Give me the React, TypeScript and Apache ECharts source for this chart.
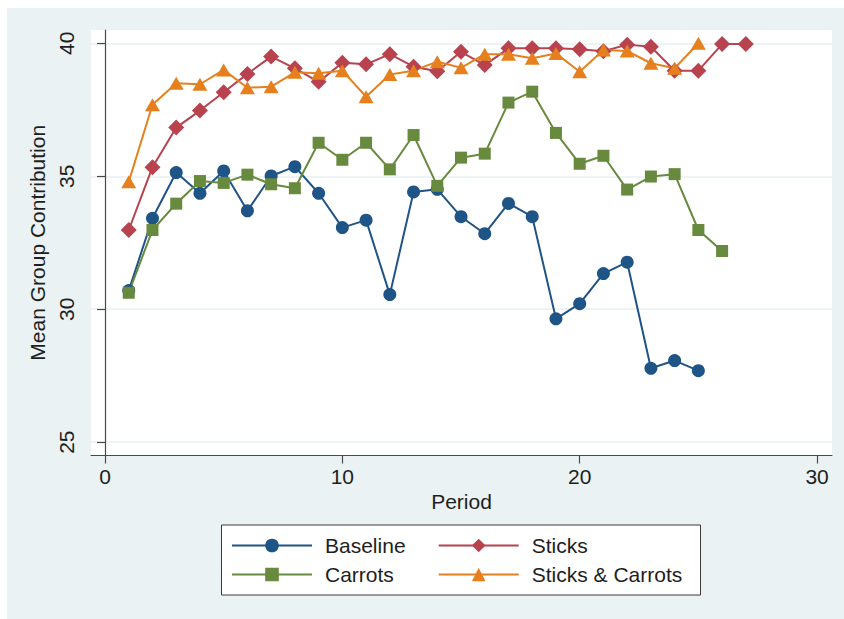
import React, { useEffect, useRef } from "react";
import * as echarts from "echarts";

const periods = [1, 2, 3, 4, 5, 6, 7, 8, 9, 10, 11, 12, 13, 14, 15, 16, 17, 18, 19, 20, 21, 22, 23, 24, 25, 26, 27];

const baseline = [30.7, 33.42, 35.14, 34.36, 35.2, 33.7, 35.01, 35.36, 34.36, 33.07, 33.35, 30.55, 34.41, 34.51, 33.48, 32.84, 33.98, 33.48, 29.64, 30.21, 31.34, 31.77, 27.78, 28.07, 27.69];
const sticks = [32.98, 35.34, 36.83, 37.47, 38.16, 38.85, 39.5, 39.06, 38.55, 39.27, 39.21, 39.59, 39.12, 38.95, 39.68, 39.18, 39.81, 39.81, 39.81, 39.78, 39.7, 39.95, 39.87, 38.97, 38.97, 39.97, 39.97];
const carrots = [30.62, 32.98, 33.97, 34.82, 34.75, 35.06, 34.7, 34.55, 36.26, 35.62, 36.26, 35.26, 36.55, 34.64, 35.7, 35.85, 37.77, 38.18, 36.63, 35.47, 35.77, 34.5, 34.99, 35.08, 32.98, 32.19];
const sticksCarrots = [34.79, 37.69, 38.5, 38.46, 39.0, 38.33, 38.37, 38.91, 38.87, 38.97, 37.99, 38.83, 38.97, 39.31, 39.08, 39.59, 39.59, 39.44, 39.62, 38.93, 39.75, 39.71, 39.25, 39.06, 40.0];

const xTicks = [0, 10, 20, 30];
const yTicks = [25, 30, 35, 40];

const FONT = "'Liberation Sans', Arial, Helvetica, sans-serif";
const TEXT = "#1e1e1e";

function pairs(vals: number[]) {
  return vals.map((v, i) => [periods[i], v]);
}

export default function App() {
  const ref = useRef<HTMLDivElement>(null);
  useEffect(() => {
    if (!ref.current) return;
    const chart = echarts.init(ref.current, undefined, { renderer: "svg" });
    const mk = (name: string, vals: number[], color: string, symbol: string, size: any) => ({
      name,
      type: "line",
      data: pairs(vals),
      symbol,
      symbolSize: size,
      showSymbol: true,
      lineStyle: { color, width: 2 },
      itemStyle: { color, borderWidth: 0 },
      emphasis: { disabled: true },
    });
    const legendCommon = {
      orient: "vertical",
      top: 530,
      itemWidth: 80,
      itemHeight: 17,
      itemGap: 8,
      selectedMode: false,
      textStyle: { fontFamily: FONT, fontSize: 21, color: TEXT, padding: [0, 0, 0, 8] },
      z: 5,
    };
    chart.setOption({
      animation: false,
      backgroundColor: "transparent",
      grid: {
        left: 91,
        top: 30,
        right: 12,
        bottom: 163.5,
        show: true,
        backgroundColor: "#ffffff",
        borderWidth: 0,
      },
      xAxis: {
        type: "value",
        min: -0.59,
        max: 30.63,
        name: "Period",
        nameLocation: "middle",
        nameGap: 34,
        nameTextStyle: { fontFamily: FONT, fontSize: 21, color: TEXT },
        axisLine: { show: true, lineStyle: { color: "#4a4a4a", width: 1.2 } },
        axisTick: { show: true, length: 8, customValues: xTicks, lineStyle: { color: "#4a4a4a", width: 1.2 } },
        axisLabel: { customValues: xTicks, margin: 10, fontFamily: FONT, fontSize: 21, color: TEXT },
        splitLine: { show: false },
      },
      yAxis: {
        type: "value",
        min: 24.5,
        max: 40.5,
        name: "Mean Group Contribution",
        nameLocation: "middle",
        nameGap: 35,
        nameTextStyle: { fontFamily: FONT, fontSize: 21, color: TEXT },
        axisLine: { show: true, lineStyle: { color: "#4a4a4a", width: 1.2 } },
        axisTick: { show: true, length: 8, customValues: yTicks, lineStyle: { color: "#4a4a4a", width: 1.2 } },
        axisLabel: { customValues: yTicks, rotate: 90, margin: 14, fontFamily: FONT, fontSize: 21, color: TEXT },
        splitLine: { show: true, lineStyle: { color: "#e9f1f3", width: 1.6 } },
      },
      legend: [
        { ...legendCommon, left: 226, data: ["Baseline", "Carrots"] },
        { ...legendCommon, left: 432.7, data: ["Sticks", "Sticks & Carrots"] },
      ],
      graphic: [
        {
          type: "rect",
          z: 1,
          shape: { x: 221.5, y: 525, width: 479, height: 70 },
          style: { fill: "#ffffff", stroke: "#3a3a3a", lineWidth: 1 },
        },
      ],
      series: [
        mk("Baseline", baseline, "#1f5486", "circle", 13),
        mk("Sticks", sticks, "#b8434e", "diamond", 16),
        mk("Carrots", carrots, "#678a3e", "rect", 12),
        mk("Sticks & Carrots", sticksCarrots, "#e6801f", "triangle", [15, 13]),
      ],
    });
    return () => chart.dispose();
  }, []);
  return (
    <div style={{ position: "absolute", left: 0, top: 0, width: 844, height: 619, background: "#ffffff" }}>
      <div style={{ position: "absolute", left: 7, top: 8, width: 837, height: 611, background: "#eaf2f4" }} />
      <div ref={ref} style={{ position: "absolute", left: 0, top: 0, width: 844, height: 619 }} />
    </div>
  );
}
